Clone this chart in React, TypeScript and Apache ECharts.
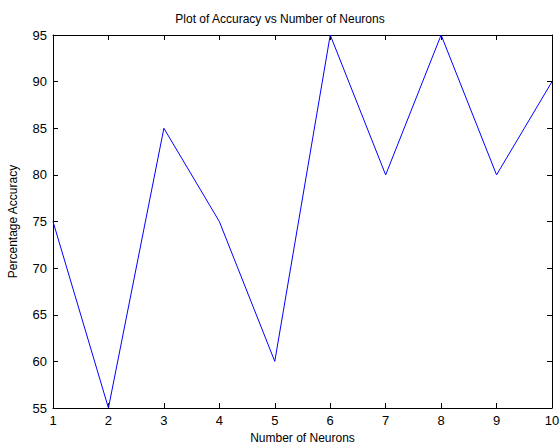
import React, { useEffect, useRef } from "react";
import * as echarts from "echarts";

const neurons = [1, 2, 3, 4, 5, 6, 7, 8, 9, 10];
const accuracy = [75, 55, 85, 75, 60, 95, 80, 95, 80, 90];
const titleText = "Plot of Accuracy vs Number of Neurons";
const xName = "Number of Neurons";
const yName = "Percentage Accuracy";

export default function App() {
  const ref = useRef<HTMLDivElement>(null);
  useEffect(() => {
    if (!ref.current) return;
    const chart = echarts.init(ref.current, null, { renderer: "svg" });
    const font = "Liberation Sans, Arial, sans-serif";
    const axisLine = { show: true, lineStyle: { color: "#000", width: 1 } };
    const tick = { show: true, inside: true, length: 5, lineStyle: { color: "#000" } };
    chart.setOption({
      animation: false,
      backgroundColor: "#fff",
      title: {
        text: titleText,
        left: "center",
        top: 8,
        textStyle: { fontFamily: font, fontSize: 12, fontWeight: "normal", color: "#000" },
      },
      grid: { left: 53, right: 8, top: 35, bottom: 37, containLabel: false, outerBoundsMode: "none" },
      xAxis: [
        {
          type: "value",
          min: 1,
          max: 10,
          interval: 1,
          position: "bottom",
          name: xName,
          nameLocation: "middle",
          nameGap: 22,
          nameTextStyle: { fontFamily: font, fontSize: 12, color: "#000" },
          axisLine,
          axisTick: tick,
          axisLabel: { fontFamily: font, fontSize: 13, color: "#000", margin: 6 },
          splitLine: { show: false },
        },
        {
          type: "value",
          min: 1,
          max: 10,
          interval: 1,
          position: "top",
          axisLine,
          axisTick: tick,
          axisLabel: { show: false },
          splitLine: { show: false },
        },
      ],
      yAxis: [
        {
          type: "value",
          min: 55,
          max: 95,
          interval: 5,
          position: "left",
          name: yName,
          nameLocation: "middle",
          nameGap: 34,
          nameRotate: 90,
          nameTextStyle: { fontFamily: font, fontSize: 12, color: "#000" },
          axisLine,
          axisTick: tick,
          axisLabel: { fontFamily: font, fontSize: 13, color: "#000", margin: 6 },
          splitLine: { show: false },
        },
        {
          type: "value",
          min: 55,
          max: 95,
          interval: 5,
          position: "right",
          axisLine,
          axisTick: tick,
          axisLabel: { show: false },
          splitLine: { show: false },
        },
      ],
      series: [
        {
          type: "line",
          data: neurons.map((n, i) => [n, accuracy[i]]),
          showSymbol: false,
          lineStyle: { color: "#0000ff", width: 1 },
          itemStyle: { color: "#0000ff" },
        },
      ],
    });
    return () => chart.dispose();
  }, []);
  return (
    <div
      ref={ref}
      style={{ position: "fixed", left: 0, top: 0, width: 560, height: 445 }}
    />
  );
}
